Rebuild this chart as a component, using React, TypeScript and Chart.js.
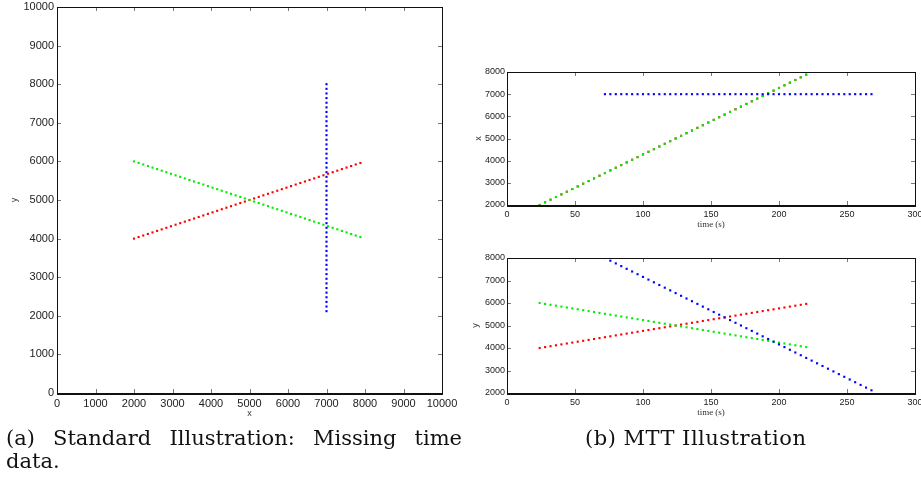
import React, { useEffect, useRef } from "react";
import { Chart, registerables } from "chart.js";

Chart.register(...registerables);

// ---- data ----
const timesRG = [24, 28, 32, 36, 40, 44, 48, 52, 56, 60, 64, 68, 72, 76, 80, 84, 88, 92, 96, 100, 104, 108, 112, 116, 120, 124, 128, 132, 136, 140, 144, 148, 152, 156, 160, 164, 168, 172, 176, 180, 184, 188, 192, 196, 200, 204, 208, 212, 216, 220];
const timesB = [72, 76, 80, 84, 88, 92, 96, 100, 104, 108, 112, 116, 120, 124, 128, 132, 136, 140, 144, 148, 152, 156, 160, 164, 168, 172, 176, 180, 184, 188, 192, 196, 200, 204, 208, 212, 216, 220, 224, 228, 232, 236, 240, 244, 248, 252, 256, 260, 264, 268];
const redX = [2000, 2120, 2240, 2360, 2480, 2600, 2720, 2840, 2960, 3080, 3200, 3320, 3440, 3560, 3680, 3800, 3920, 4040, 4160, 4280, 4400, 4520, 4640, 4760, 4880, 5000, 5120, 5240, 5360, 5480, 5600, 5720, 5840, 5960, 6080, 6200, 6320, 6440, 6560, 6680, 6800, 6920, 7040, 7160, 7280, 7400, 7520, 7640, 7760, 7880];
const redY = [4000, 4040, 4080, 4120, 4160, 4200, 4240, 4280, 4320, 4360, 4400, 4440, 4480, 4520, 4560, 4600, 4640, 4680, 4720, 4760, 4800, 4840, 4880, 4920, 4960, 5000, 5040, 5080, 5120, 5160, 5200, 5240, 5280, 5320, 5360, 5400, 5440, 5480, 5520, 5560, 5600, 5640, 5680, 5720, 5760, 5800, 5840, 5880, 5920, 5960];
const greenX = [2000, 2120, 2240, 2360, 2480, 2600, 2720, 2840, 2960, 3080, 3200, 3320, 3440, 3560, 3680, 3800, 3920, 4040, 4160, 4280, 4400, 4520, 4640, 4760, 4880, 5000, 5120, 5240, 5360, 5480, 5600, 5720, 5840, 5960, 6080, 6200, 6320, 6440, 6560, 6680, 6800, 6920, 7040, 7160, 7280, 7400, 7520, 7640, 7760, 7880];
const greenY = [6000, 5960, 5920, 5880, 5840, 5800, 5760, 5720, 5680, 5640, 5600, 5560, 5520, 5480, 5440, 5400, 5360, 5320, 5280, 5240, 5200, 5160, 5120, 5080, 5040, 5000, 4960, 4920, 4880, 4840, 4800, 4760, 4720, 4680, 4640, 4600, 4560, 4520, 4480, 4440, 4400, 4360, 4320, 4280, 4240, 4200, 4160, 4120, 4080, 4040];
const blueX = [7000, 7000, 7000, 7000, 7000, 7000, 7000, 7000, 7000, 7000, 7000, 7000, 7000, 7000, 7000, 7000, 7000, 7000, 7000, 7000, 7000, 7000, 7000, 7000, 7000, 7000, 7000, 7000, 7000, 7000, 7000, 7000, 7000, 7000, 7000, 7000, 7000, 7000, 7000, 7000, 7000, 7000, 7000, 7000, 7000, 7000, 7000, 7000, 7000, 7000];
const blueY = [8000, 7880, 7760, 7640, 7520, 7400, 7280, 7160, 7040, 6920, 6800, 6680, 6560, 6440, 6320, 6200, 6080, 5960, 5840, 5720, 5600, 5480, 5360, 5240, 5120, 5000, 4880, 4760, 4640, 4520, 4400, 4280, 4160, 4040, 3920, 3800, 3680, 3560, 3440, 3320, 3200, 3080, 2960, 2840, 2720, 2600, 2480, 2360, 2240, 2120];

const spaceTicks = { min: 0, max: 10000, step: 1000 };
const timeTicks = { min: 0, max: 300, step: 50 };
const posTicks = { min: 2000, max: 8000, step: 1000 };

const captionA1 = "(a) Standard Illustration: Missing time";
const captionA2 = "data.";
const captionB = "(b) MTT Illustration";

const RED = "#ff0000";
const GREEN = "#00ee00";
const BLUE = "#0000ff";

const pts = (xs: number[], ys: number[]) => xs.map((x, i) => ({ x, y: ys[i] }));

const framePlugin = {
  id: "matlabFrame",
  afterDraw(chart: any) {
    const { ctx, chartArea: a, scales } = chart;
    ctx.save();
    ctx.strokeStyle = "#777";
    ctx.lineWidth = 1;
    const tl = 4;
    scales.x.ticks.forEach((t: any) => {
      const px = Math.round(scales.x.getPixelForValue(t.value)) + 0.5;
      ctx.beginPath();
      ctx.moveTo(px, a.bottom);
      ctx.lineTo(px, a.bottom - tl);
      ctx.moveTo(px, a.top);
      ctx.lineTo(px, a.top + tl);
      ctx.stroke();
    });
    scales.y.ticks.forEach((t: any) => {
      const py = Math.round(scales.y.getPixelForValue(t.value)) + 0.5;
      ctx.beginPath();
      ctx.moveTo(a.left, py);
      ctx.lineTo(a.left + tl, py);
      ctx.moveTo(a.right, py);
      ctx.lineTo(a.right - tl, py);
      ctx.stroke();
    });
    ctx.strokeStyle = "#111";
    ctx.lineWidth = 1;
    ctx.strokeRect(Math.round(a.left) + 0.5, Math.round(a.top) + 0.5, Math.round(a.right - a.left), Math.round(a.bottom - a.top));
    ctx.lineWidth = 2;
    ctx.beginPath();
    ctx.moveTo(a.left, Math.round(a.bottom) + 1);
    ctx.lineTo(a.right + 1, Math.round(a.bottom) + 1);
    ctx.stroke();
    ctx.restore();
  },
};

type Spec = {
  datasets: any[];
  xT: { min: number; max: number; step: number };
  yT: { min: number; max: number; step: number };
  pad: { left: number; top: number; right: number; bottom: number };
  yW: number;
  xH: number;
  tickFont: number;
  xTitle: string;
  yTitle: string;
  xTitleFont: any;
  yTitleFont: any;
  xTitlePad: number;
  yTitlePad: number;
  xTickPad: number;
  yTickPad: number;
};

function makeConfig(s: Spec): any {
  return {
    type: "scatter",
    data: { datasets: s.datasets },
    plugins: [framePlugin],
    options: {
      responsive: false,
      animation: false,
      devicePixelRatio: 1,
      layout: { padding: s.pad },
      plugins: { legend: { display: false }, tooltip: { enabled: false } },
      elements: { point: { pointStyle: "rect", radius: 1.5, borderWidth: 0 } },
      scales: {
        x: {
          type: "linear",
          min: s.xT.min,
          max: s.xT.max,
          grid: { display: false, drawTicks: false, tickLength: 0 },
          border: { display: false },
          ticks: {
            stepSize: s.xT.step,
            autoSkip: false,
            maxRotation: 0,
            padding: s.xTickPad,
            color: "#222",
            font: { family: "'Liberation Sans', Arial, sans-serif", size: s.tickFont },
            callback: (v: any) => String(v),
          },
          title: {
            display: true,
            text: s.xTitle,
            color: "#333",
            font: s.xTitleFont,
            padding: { top: 0, bottom: s.xTitlePad },
          },
          afterFit: (sc: any) => {
            sc.height = s.xH;
            sc.paddingLeft = 0;
            sc.paddingRight = 0;
          },
        },
        y: {
          type: "linear",
          min: s.yT.min,
          max: s.yT.max,
          grid: { display: false, drawTicks: false, tickLength: 0 },
          border: { display: false },
          ticks: {
            stepSize: s.yT.step,
            autoSkip: false,
            padding: s.yTickPad,
            color: "#222",
            font: { family: "'Liberation Sans', Arial, sans-serif", size: s.tickFont },
            callback: (v: any) => String(v),
          },
          title: {
            display: true,
            text: s.yTitle,
            color: "#333",
            font: s.yTitleFont,
            padding: { top: s.yTitlePad, bottom: 0 },
          },
          afterFit: (sc: any) => {
            sc.width = s.yW;
            sc.paddingTop = 0;
            sc.paddingBottom = 0;
          },
        },
      },
    },
  };
}

const ds = (label: string, data: any[], color: string, order: number) => ({
  label,
  data,
  backgroundColor: color,
  borderColor: color,
  pointBackgroundColor: color,
  order,
});

function ChartCanvas({ spec }: { spec: Spec }) {
  const ref = useRef<HTMLCanvasElement | null>(null);
  useEffect(() => {
    if (!ref.current) return;
    const c = new Chart(ref.current, makeConfig(spec));
    return () => c.destroy();
  }, []);
  return (
    <canvas
      ref={ref}
      width={921}
      height={490}
      style={{ position: "absolute", left: 0, top: 0, width: 921, height: 490 }}
    />
  );
}

const sansTitle = { family: "'Liberation Sans', Arial, sans-serif", size: 9 };
const serifTitle = { family: "'Liberation Serif', 'DejaVu Serif', serif", size: 9 };

const specA: Spec = {
  datasets: [
    ds("red", pts(redX, redY), RED, 2),
    ds("green", pts(greenX, greenY), GREEN, 1),
    ds("blue", pts(blueX, blueY), BLUE, 0),
  ],
  xT: spaceTicks,
  yT: spaceTicks,
  pad: { left: 0, top: 7, right: 479, bottom: 65 },
  yW: 57,
  xH: 32,
  tickFont: 11,
  xTitle: "x",
  yTitle: "y",
  xTitleFont: sansTitle,
  yTitleFont: sansTitle,
  xTitlePad: 6,
  yTitlePad: 9,
  xTickPad: 4,
  yTickPad: 3,
};

const specB1: Spec = {
  datasets: [
    ds("red", pts(timesRG, redX), RED, 2),
    ds("green", pts(timesRG, greenX), GREEN, 1),
    ds("blue", pts(timesB, blueX), BLUE, 0),
  ],
  xT: timeTicks,
  yT: posTicks,
  pad: { left: 470, top: 72, right: 6, bottom: 255 },
  yW: 37,
  xH: 30,
  tickFont: 9,
  xTitle: "time (s)",
  yTitle: "x",
  xTitleFont: serifTitle,
  yTitleFont: sansTitle,
  xTitlePad: 5,
  yTitlePad: 3,
  xTickPad: 4,
  yTickPad: 2,
};

const specB2: Spec = {
  datasets: [
    ds("red", pts(timesRG, redY), RED, 2),
    ds("green", pts(timesRG, greenY), GREEN, 1),
    ds("blue", pts(timesB, blueY), BLUE, 0),
  ],
  xT: timeTicks,
  yT: posTicks,
  pad: { left: 470, top: 258, right: 6, bottom: 70 },
  yW: 37,
  xH: 27,
  tickFont: 9,
  xTitle: "time (s)",
  yTitle: "y",
  xTitleFont: serifTitle,
  yTitleFont: sansTitle,
  xTitlePad: 2,
  yTitlePad: 0,
  xTickPad: 4,
  yTickPad: 2,
};

const captionFont: React.CSSProperties = {
  position: "absolute",
  fontFamily: "'DejaVu Serif', 'Liberation Serif', serif",
  fontSize: 21,
  color: "#111",
  lineHeight: "24px",
  whiteSpace: "nowrap",
};

export default function App() {
  return (
    <div style={{ position: "absolute", left: 0, top: 0, width: 921, height: 490, background: "#fff", overflow: "hidden" }}>
      <ChartCanvas spec={specA} />
      <ChartCanvas spec={specB1} />
      <ChartCanvas spec={specB2} />
      <div style={{ ...captionFont, left: 6, top: 426, width: 456, textAlign: "justify", textAlignLast: "justify", whiteSpace: "normal" }}>
        {captionA1}
      </div>
      <div style={{ ...captionFont, left: 6, top: 449 }}>{captionA2}</div>
      <div style={{ ...captionFont, left: 585, top: 426, letterSpacing: 0.5 }}>{captionB}</div>
    </div>
  );
}
